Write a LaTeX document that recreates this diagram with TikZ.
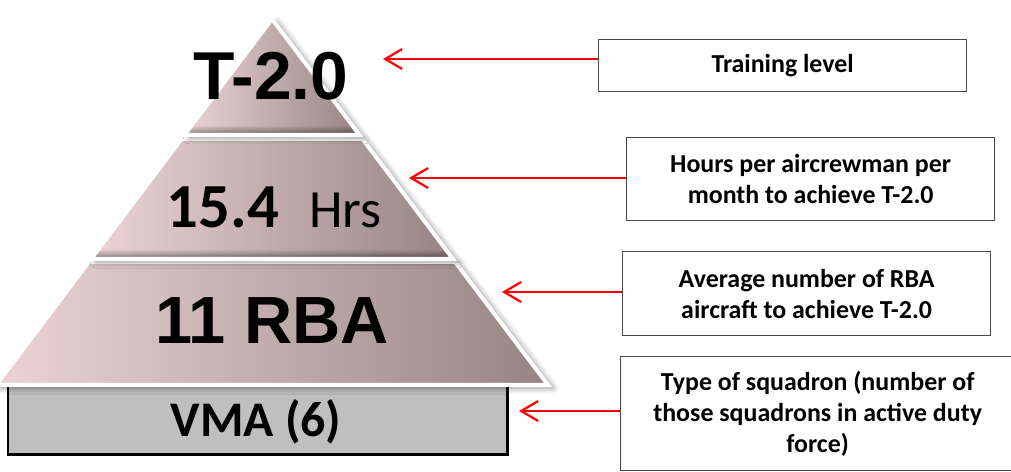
\documentclass[tikz,border=0pt]{standalone}
\usepackage{fontspec}
\newfontfamily\arialf{Liberation Sans}
\newfontfamily\calf{Carlito}
\usetikzlibrary{arrows.meta,shadows.blur,fadings}
\definecolor{pyrL}{RGB}{236,212,214}
\definecolor{pyrR}{RGB}{150,132,131}
\definecolor{vmagray}{RGB}{191,191,191}
\definecolor{boxline}{RGB}{70,70,70}
\tikzset{
  section/.style={left color=pyrL, right color=pyrR,
    blur shadow={shadow xshift=5bp, shadow yshift=-3bp, shadow blur radius=6bp, shadow opacity=45}},
  rim/.style={draw=white, line width=4bp, line join=miter},
  band/.style={fill=black, path fading=north, opacity=0.45},
  note/.style={draw=boxline, line width=1.3bp, fill=white, align=center,
    font=\calf\bfseries\fontsize{26}{31}\selectfont, inner sep=0pt, anchor=north west},
  pointer/.style={red, line width=2.2bp, -{Straight Barb[length=17bp,width=20bp]}},
  bigtext/.style={anchor=base, inner sep=0pt},
}
\begin{document}
\begin{tikzpicture}[x=1bp,y=-1bp]
\useasboundingbox (0,0) rectangle (1011,472);
% base box
\node[anchor=north west, minimum width=499bp, minimum height=67bp, fill=vmagray, inner sep=0pt] (vma) at (8,387) {};
\draw[black, line width=2.5bp] (vma.north west) -- (vma.south west) -- (vma.south east) -- (vma.north east);
\node[bigtext, font=\calf\bfseries\fontsize{50}{50}\selectfont] (vmat) at (256,436) {VMA (6)};
% bottom section
\path[section] (88.8,262) -- (455.2,262) -- (548,385) -- (-4,385) -- cycle;
\draw[rim] (88.8,262) -- (455.2,262) -- (548,385) -- (-4,385) -- cycle;
% middle section
\path[section] (181.5,139) -- (362.5,139) -- (453,259) -- (91,259) -- cycle;
\begin{scope}
  \clip (181.5,139) -- (362.5,139) -- (453,259) -- (91,259) -- cycle;
  \fill[band] (80,249) rectangle (465,259);
\end{scope}
\draw[rim] (181.5,139) -- (362.5,139) -- (453,259) -- (91,259) -- cycle;
% top section
\path[section] (272,19) -- (359.5,135) -- (184.5,135) -- cycle;
\begin{scope}
  \clip (272,19) -- (359.5,135) -- (184.5,135) -- cycle;
  \fill[band] (175,125) rectangle (370,135);
\end{scope}
\draw[rim] (272,19) -- (359.5,135) -- (184.5,135) -- cycle;
% texts in pyramid
\node[bigtext, font=\arialf\bfseries\fontsize{68}{68}\selectfont] (t20) at (271,100) {T-2.0};
\node[anchor=base east, inner sep=0pt, font=\calf\bfseries\fontsize{63}{63}\selectfont] (hnum) at (279,228) {15.4};
\node[anchor=base west, inner sep=0pt, font=\calf\fontsize{54}{54}\selectfont] (hunit) at (309,228) {Hrs};
\node[bigtext, font=\arialf\bfseries\fontsize{67}{67}\selectfont] (rba) at (272,344) {11 RBA};
% explanation boxes
\node[note, minimum width=368bp, minimum height=52bp] (b1) at (598,39) {Training level};
\node[note, minimum width=368bp, minimum height=83bp] (b2) at (626,137) {Hours per aircrewman per\\month to achieve T-2.0};
\node[note, minimum width=368bp, minimum height=84bp] (b3) at (622,251) {Average number of RBA\\aircraft to achieve T-2.0};
\node[note, minimum width=394bp, minimum height=114bp] (b4) at (620,356) {Type of squadron (number of\\those squadrons in active duty\\force)};
% arrows
\coordinate (p1) at (383,59);
\coordinate (p2) at (409,178);
\coordinate (p3) at (502,292);
\coordinate (p4) at (519,411);
\draw[pointer] (b1.west |- p1) -- (p1);
\draw[pointer] (b2.west |- p2) -- (p2);
\draw[pointer] (b3.west |- p3) -- (p3);
\draw[pointer] (b4.west |- p4) -- (p4);
\end{tikzpicture}
\end{document}
